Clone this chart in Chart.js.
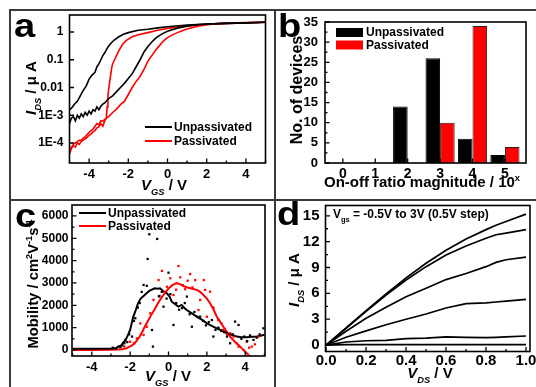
<!DOCTYPE html>
<html><head><meta charset="utf-8">
<script src="https://cdn.jsdelivr.net/npm/chart.js@4/dist/chart.umd.min.js"></script>
<style>
html,body{margin:0;padding:0;background:#fff;width:536px;height:387px;overflow:hidden;position:relative}
canvas{position:absolute}
.ln{position:absolute;background:#3a3a3a}
</style></head><body>
<canvas id="ca" width="265" height="190" style="left:10px;top:10px;width:265px;height:190px"></canvas>
<canvas id="cb" width="261" height="190" style="left:275px;top:10px;width:261px;height:190px"></canvas>
<canvas id="cc" width="265" height="187" style="left:10px;top:200px;width:265px;height:187px"></canvas>
<canvas id="cd" width="261" height="187" style="left:275px;top:200px;width:261px;height:187px"></canvas>
<div class="ln" style="left:9px;top:9px;width:527px;height:2px"></div>
<div class="ln" style="left:9px;top:9px;width:2px;height:378px"></div>
<div class="ln" style="left:274px;top:9px;width:2px;height:378px"></div>
<div class="ln" style="left:9px;top:199px;width:527px;height:2px"></div>
<script>
// ---------- Panel a: transfer curves (I_DS in µA vs V_GS) ----------
const aUnpV1 = [-5,-4.9,-4.75,-4.6,-4.45,-4.3,-4.15,-4.0,-3.85,-3.7,-3.6,-3.5,-3.4,-3.3,-3.2,-3.1,-3.0,-2.85,-2.7,-2.5,-2.25,-2.0,-1.5,-1.0,-0.5,0,1,2,3,4,5];
const aUnpI1 = [1.58e-3,1.78e-3,2.5e-3,3.16e-3,5.0e-3,7.9e-3,0.0112,0.02,0.028,0.0355,0.056,0.0708,0.1,0.141,0.178,0.24,0.316,0.417,0.525,0.66,0.83,0.95,1.15,1.26,1.41,1.55,1.78,1.95,2.04,2.14,2.24];
const aUnpV2 = [-5,-4.9,-4.8,-4.7,-4.6,-4.5,-4.4,-4.3,-4.2,-4.1,-4.0,-3.9,-3.8,-3.7,-3.6,-3.5,-3.4,-3.3,-3.2,-3.0,-2.8,-2.6,-2.4,-2.2,-2.0,-1.8,-1.6,-1.4,-1.2,-1.0,-0.8,-0.6,-0.4,-0.2,0,0.5,1,1.5,2,3,4,5];
const aUnpI2 = [5.0e-4,7.9e-4,8.9e-4,6.3e-4,1.0e-3,7.9e-4,1.12e-3,8.9e-4,1.26e-3,1.0e-3,1.41e-3,1.12e-3,1.58e-3,1.41e-3,2.0e-3,1.58e-3,2.1e-3,2.5e-3,2.8e-3,4.0e-3,5.0e-3,7.1e-3,0.01,0.0141,0.0209,0.0316,0.056,0.1,0.19,0.30,0.437,0.6,0.76,0.91,1.07,1.38,1.62,1.82,1.95,2.04,2.14,2.24];
const aPasV1 = [-5,-4.9,-4.8,-4.7,-4.6,-4.5,-4.4,-4.3,-4.2,-4.1,-4.0,-3.9,-3.8,-3.7,-3.6,-3.5,-3.4,-3.3,-3.2,-3.12,-3.08,-3.04,-3.0,-2.95,-2.9,-2.85,-2.8,-2.7,-2.5,-2.3,-2.1,-1.8,-1.5,-1.0,-0.5,0,1,2,3,4,5];
const aPasI1 = [3.98e-5,6.3e-5,7.9e-5,7.1e-5,1.0e-4,8.9e-5,1.12e-4,1.26e-4,1.41e-4,1.58e-4,1.9e-4,2.09e-4,2.5e-4,2.8e-4,3.5e-4,3.8e-4,5.0e-4,4.0e-4,6.3e-4,7.9e-4,2.0e-3,5.0e-3,8.9e-3,0.0158,0.028,0.05,0.0708,0.1,0.2,0.355,0.5,0.676,0.79,0.95,1.15,1.35,1.66,1.86,2.04,2.14,2.24];
const aPasV2 = [-5,-4.9,-4.8,-4.7,-4.6,-4.5,-4.4,-4.3,-4.2,-4.1,-4.0,-3.9,-3.8,-3.7,-3.6,-3.5,-3.4,-3.3,-3.2,-3.0,-2.8,-2.6,-2.4,-2.2,-2.0,-1.8,-1.6,-1.4,-1.2,-1.0,-0.8,-0.6,-0.4,-0.2,0,0.25,0.5,0.75,1.0,1.5,2.0,2.5,3,4,5];
const aPasI2 = [5.0e-5,7.1e-5,8.9e-5,1.0e-4,1.12e-4,1.26e-4,1.26e-4,1.51e-4,1.66e-4,2.0e-4,2.4e-4,2.8e-4,3.16e-4,4.0e-4,5.0e-4,4.5e-4,6.3e-4,6.0e-4,7.1e-4,8.9e-4,1.26e-3,1.66e-3,2.4e-3,3.16e-3,5.6e-3,0.01,0.0166,0.025,0.0447,0.089,0.141,0.224,0.33,0.48,0.63,0.79,0.95,1.12,1.29,1.58,1.82,2.0,2.09,2.19,2.24];
const aXTicks = [-4,-2,0,2,4];
const aXTickLabels = ['-4','-2','0','2','4'];
const aYTicks = [1e-4,1e-3,0.01,0.1,1];
const aYTickLabels = ['1E-4','1E-3','0.01','0.1','1'];

// ---------- Panel b: on-off ratio histogram ----------
const bCategories = [0,1,2,3,4,5];
const bUnp = [0,0,14,26,6,2];
const bPas = [0,0,0,10,34,4];
const bYTicks = [0,5,10,15,20,25,30,35];

// ---------- Panel c: mobility vs V_GS ----------
const cUnpV  = [-5,-4,-3,-2.75,-2.6,-2.45,-2.35,-2.25,-2.1,-2.0,-1.85,-1.7,-1.59,-1.45,-1.24,-1.0,-0.72,-0.55,-0.44,-0.3,-0.09,0.05,0.17,0.35,0.51,0.69,0.8,0.95,1.2,1.47,1.75,2.0,2.25,2.52,2.8,3.04,3.3,3.56,3.8,4.08,4.35,4.6,4.85,5.0];
const cUnpMu = [50,60,70,80,150,220,350,420,700,900,1450,1800,2090,2300,2460,2650,2760,2740,2760,2650,2540,2400,2160,2050,1940,2015,1900,1790,1650,1490,1350,1190,1080,970,860,750,680,600,570,570,590,600,650,680];
const cPasV  = [-5,-4,-3,-2.4,-2.2,-2.03,-1.9,-1.77,-1.65,-1.5,-1.37,-1.24,-1.1,-0.9,-0.72,-0.55,-0.38,-0.2,0,0.2,0.43,0.6,0.8,0.95,1.2,1.47,1.65,1.82,2.0,2.17,2.35,2.52,2.7,2.86,3.05,3.21,3.45,3.65,3.85,4.08,4.26,4.5];
const cPasMu = [0,0,10,30,70,150,200,300,420,600,800,1040,1250,1570,1820,2090,2320,2540,2750,2900,2990,2950,2850,2810,2750,2690,2600,2460,2300,2090,1800,1490,1250,1040,800,600,380,220,50,-150,-300,-550];
const cUnpDotV  = [-2.9,-2.75,-2.6,-2.5,-2.4,-2.3,-2.25,-2.15,-2.05,-1.9,-1.8,-1.73,-1.6,-1.5,-1.4,-1.3,-1.13,-1.09,-1.0,-0.86,-0.81,-0.59,-0.5,-0.47,-0.35,-0.26,-0.1,0.0,0.1,0.26,0.4,0.55,0.7,0.85,0.96,1.1,1.22,1.35,1.5,1.65,1.8,1.95,2.1,2.26,2.34,2.45,2.6,2.75,2.9,3.05,3.21,3.35,3.47,3.65,3.8,3.95,4.1,4.25,4.43,4.6,4.75,4.95];
const cUnpDotMu = [100,60,150,120,200,300,450,350,700,600,1300,1420,1900,2100,2600,2910,2870,4075,5180,895,150,4970,2400,2420,2600,1940,2300,3460,2500,1120,2100,1800,1870,2100,2390,1600,1040,1700,1490,1490,1300,1100,1250,1340,600,900,1000,850,800,600,300,700,1270,1120,500,600,400,650,450,550,700,970];
const cPasDotV  = [-2.3,-2.0,-1.8,-1.65,-1.47,-1.3,-1.13,-0.95,-0.78,-0.52,-0.34,-0.2,-0.08,0.09,0.26,0.4,0.52,0.61,0.75,0.87,1.0,1.13,1.25,1.39,1.56,1.65,1.84,1.91,2.0,2.17,2.35,2.6,2.75,2.86,3.05,3.21,3.39,3.55,3.65,3.91,4.08,4.2,4.34,4.5,4.69];
const cPasDotMu = [150,370,300,520,1190,670,1040,1640,2240,3130,3540,2600,2830,3210,2460,2700,3760,3250,2900,2720,3100,3400,2800,3130,1790,2240,3130,2690,1490,2610,1900,1340,1200,900,700,750,600,300,150,0,370,100,150,250,600];
const cXTicks = [-4,-2,0,2,4];
const cYTicks = [0,1000,2000,3000,4000,5000,6000];

// ---------- Panel d: output curves ----------
const dV  = [0,0.1,0.2,0.3,0.4,0.5,0.6,0.7,0.8,0.85,0.9,1.0];
const dI1 = [0,2.0,4.0,5.95,7.8,9.5,11.0,12.3,13.4,13.9,14.35,15.2];
const dI2 = [0,1.95,3.9,5.8,7.55,9.1,10.45,11.5,12.4,12.8,13.0,13.4];
const dI3 = [0,1.6,3.1,4.4,5.6,6.6,7.6,8.3,9.1,9.6,9.9,10.2];
const dI4 = [0,0.9,1.65,2.35,3.0,3.6,4.3,4.8,4.9,5.0,5.1,5.3];
const dI5 = [0,0.35,0.5,0.55,0.75,0.8,0.95,0.9,0.85,0.9,0.95,1.05];
const dI6 = [0,0.05,0.05,0.05,0.05,0.05,0.05,0.05,0.05,0.05,0.05,0.05];
const dXTicks = [0,0.2,0.4,0.6,0.8,1.0];
const dXTickLabels = ['0.0','0.2','0.4','0.6','0.8','1.0'];
const dYTicks = [0,3,6,9,12,15];

// ---------- helpers ----------
const FAM = '"Liberation Sans", Arial, Helvetica, sans-serif';
Chart.defaults.font.family = FAM;
Chart.defaults.color = '#000';
Chart.defaults.animation = false;
Chart.defaults.plugins.legend.display = false;
Chart.defaults.plugins.tooltip.enabled = false;

const zip = (xs, ys) => xs.map((x, i) => ({x, y: ys[i]}));

function fontFor(s, size){
  const sz = (s.sub || s.sup) ? size * 0.62 : size;
  return (s.i ? 'italic ' : '') + 'bold ' + sz + 'px ' + FAM;
}
function drawRich(ctx, segs, x, y, size, align){
  let w = 0;
  segs.forEach(s => { ctx.font = fontFor(s, size); w += ctx.measureText(s.t).width; });
  let cx = align === 'center' ? x - w / 2 : x;
  ctx.textAlign = 'left'; ctx.textBaseline = 'alphabetic';
  segs.forEach(s => {
    ctx.font = fontFor(s, size);
    const dy = s.sub ? size * 0.32 : (s.sup ? -size * 0.4 : 0);
    ctx.fillText(s.t, cx, y + dy);
    cx += ctx.measureText(s.t).width;
  });
}

function decor(spec){
  return {
    id: 'decor',
    afterDraw(chart){
      const ctx = chart.ctx, ca = chart.chartArea;
      const X = v => v - spec.ox, Y = v => v - spec.oy;
      ctx.save();
      ctx.fillStyle = '#000'; ctx.strokeStyle = '#000';
      ctx.lineWidth = 1.6;
      ctx.strokeRect(ca.left, ca.top, ca.right - ca.left, ca.bottom - ca.top);
      const xs = chart.scales.x, ys = chart.scales.y;
      ctx.lineWidth = 1.3;
      ctx.beginPath();
      const tick = (sc, v, len) => {
        const p = sc.getPixelForValue(v);
        if (sc === xs) { ctx.moveTo(p, ca.bottom); ctx.lineTo(p, ca.bottom - len); }
        else { ctx.moveTo(ca.left, p); ctx.lineTo(ca.left + len, p); }
      };
      spec.xMajor.forEach(v => tick(xs, v, 4.5));
      (spec.xMinor || []).forEach(v => tick(xs, v, 2.5));
      spec.yMajor.forEach(v => tick(ys, v, 4.5));
      (spec.yMinor || []).forEach(v => tick(ys, v, 2.5));
      ctx.stroke();
      ctx.font = 'bold 34px ' + FAM; ctx.textAlign = 'left'; ctx.textBaseline = 'alphabetic';
      ctx.save(); ctx.translate(X(spec.letter.x), Y(spec.letter.y)); ctx.scale(1.12, 1);
      ctx.fillText(spec.letter.t, 0, 0); ctx.restore();
      drawRich(ctx, spec.xTitle.segs, X(spec.xTitle.cx), Y(spec.xTitle.y), spec.xTitle.size, 'center');
      ctx.save();
      ctx.translate(X(spec.yTitle.cx), Y(spec.yTitle.cy));
      ctx.rotate(-Math.PI / 2);
      drawRich(ctx, spec.yTitle.segs, 0, spec.yTitle.size * 0.36, spec.yTitle.size, 'center');
      ctx.restore();
      (spec.legend || []).forEach(it => {
        ctx.fillStyle = it.color; ctx.strokeStyle = it.color;
        if (it.kind === 'line') {
          ctx.lineWidth = 2; ctx.beginPath();
          ctx.moveTo(X(it.x1), Y(it.y)); ctx.lineTo(X(it.x2), Y(it.y)); ctx.stroke();
        } else {
          ctx.fillRect(X(it.x1), Y(it.y) - 4.5, it.x2 - it.x1, 9);
        }
        ctx.fillStyle = '#000';
        ctx.font = 'bold 12px ' + FAM; ctx.textAlign = 'left'; ctx.textBaseline = 'middle';
        ctx.fillText(it.label, X(it.tx), Y(it.y) + 0.5);
      });
      if (spec.note) drawRich(ctx, spec.note.segs, X(spec.note.x), Y(spec.note.y), spec.note.size, 'left');
      ctx.restore();
    }
  };
}

function xAxis(type, min, max, ticks, labels, size, pad, h){
  return { type, min, max, offset:false,
    grid:{display:false, drawTicks:false, offset:false}, border:{display:false},
    afterBuildTicks: s => { s.ticks = ticks.map(v => ({value:v})); },
    afterFit: s => { s.height = h; s.paddingLeft = 0; s.paddingRight = 0; },
    ticks:{ font:{size, weight:'bold'}, color:'#000', padding:pad, maxRotation:0, autoSkip:false,
      callback: (v, i) => labels[i] } };
}
function yAxis(type, min, max, ticks, labels, size, pad, w){
  return { type, min, max,
    grid:{display:false, drawTicks:false}, border:{display:false},
    afterBuildTicks: s => { s.ticks = ticks.map(v => ({value:v})); },
    afterFit: s => { s.width = w; s.paddingTop = 0; s.paddingBottom = 0; },
    ticks:{ font:{size, weight:'bold'}, color:'#000', padding:pad, autoSkip:false,
      callback: (v, i) => labels[i] } };
}
const mids = (arr) => arr.slice(0, -1).map((v, i) => (v + arr[i + 1]) / 2);
const lineDs = (data, color, w) => ({ type:'line', data, borderColor:color, backgroundColor:color, borderWidth:w, pointRadius:0, tension:0, fill:false });
const RED = '#ff0000', BLK = '#000000';

// ---------- Chart a ----------
new Chart(document.getElementById('ca'), {
  type:'line',
  data:{ datasets:[
    lineDs(zip(aUnpV1, aUnpI1), BLK, 1.6),
    lineDs(zip(aUnpV2, aUnpI2), BLK, 1.6),
    lineDs(zip(aPasV1, aPasI1), RED, 1.6),
    lineDs(zip(aPasV2, aPasI2), RED, 1.6)
  ]},
  options:{ responsive:false, devicePixelRatio:1,
    layout:{ padding:{ top:5, right:9.5, left:0, bottom:0 } },
    scales:{
      x: xAxis('linear', -5, 5, aXTicks, aXTickLabels, 13, 4, 37),
      y: yAxis('logarithmic', 1.9e-5, 4.1, aYTicks, aYTickLabels, 12, 6, 59.5)
    } },
  plugins:[decor({ ox:10, oy:10,
    letter:{t:'a', x:14, y:37},
    xMajor:aXTicks, xMinor:[-5,-3,-1,1,3,5], yMajor:aYTicks,
    xTitle:{ cx:164, y:190, size:15, segs:[{t:'V',i:true},{t:'GS',i:true,sub:true},{t:' / V'}] },
    yTitle:{ cx:31, cy:88, size:15, segs:[{t:'I',i:true},{t:'DS',i:true,sub:true},{t:' / μ A'}] },
    legend:[
      {kind:'line', color:BLK, x1:145, x2:172, y:127, tx:174, label:'Unpassivated'},
      {kind:'line', color:RED, x1:145, x2:172, y:141, tx:174, label:'Passivated'}
    ]
  })]
});

// ---------- Chart b ----------
new Chart(document.getElementById('cb'), {
  type:'bar',
  data:{ datasets:[
    { data: zip(bCategories, bUnp), backgroundColor:BLK, borderColor:'#000', borderWidth:1, categoryPercentage:0.9, barPercentage:1.0 },
    { data: zip(bCategories, bPas), backgroundColor:RED, borderColor:'#222', borderWidth:1, categoryPercentage:0.9, barPercentage:1.0 }
  ]},
  options:{ responsive:false, devicePixelRatio:1,
    layout:{ padding:{ top:12, right:10, left:0, bottom:0 } },
    scales:{
      x: xAxis('linear', -0.55, 5.65, bCategories, bCategories.map(String), 14, 2.5, 37),
      y: yAxis('linear', 0, 35, bYTicks, bYTicks.map(String), 13, 7, 50)
    } },
  plugins:[decor({ ox:275, oy:10,
    letter:{t:'b', x:278, y:37},
    xMajor:bCategories, yMajor:bYTicks, yMinor:mids(bYTicks),
    xTitle:{ cx:422, y:187, size:15, segs:[{t:'On-off ratio magnitude / 10'},{t:'x',sup:true}] },
    yTitle:{ cx:296, cy:90, size:16, segs:[{t:'No. of devices'}] },
    legend:[
      {kind:'rect', color:BLK, x1:336, x2:363, y:32.5, tx:366, label:'Unpassivated'},
      {kind:'rect', color:RED, x1:336, x2:363, y:45, tx:366, label:'Passivated'}
    ]
  })]
});

// ---------- Chart c ----------
new Chart(document.getElementById('cc'), {
  type:'line',
  data:{ datasets:[
    { type:'scatter', data: zip(cUnpDotV, cUnpDotMu), showLine:false, pointStyle:'rect', pointRadius:1.6, backgroundColor:BLK, borderColor:BLK, borderWidth:0 },
    { type:'scatter', data: zip(cPasDotV, cPasDotMu), showLine:false, pointStyle:'rect', pointRadius:1.6, backgroundColor:RED, borderColor:RED, borderWidth:0 },
    lineDs(zip(cUnpV, cUnpMu), BLK, 2),
    lineDs(zip(cPasV, cPasMu), RED, 2)
  ]},
  options:{ responsive:false, devicePixelRatio:1,
    layout:{ padding:{ top:5, right:10, left:0, bottom:0 } },
    scales:{
      x: xAxis('linear', -5.03, 5.03, cXTicks, cXTicks.map(String), 13, 4, 31),
      y: yAxis('linear', -270, 6490, cYTicks, cYTicks.map(String), 12, 3.5, 62)
    } },
  plugins:[decor({ ox:10, oy:200,
    letter:{t:'c', x:15, y:227},
    xMajor:cXTicks, xMinor:[-5,-3,-1,1,3,5], yMajor:cYTicks, yMinor:mids(cYTicks),
    xTitle:{ cx:168, y:381, size:15, segs:[{t:'V',i:true},{t:'GS',i:true,sub:true},{t:' / V'}] },
    yTitle:{ cx:33, cy:284, size:14.8, segs:[{t:'Mobility / cm'},{t:'2',sup:true},{t:'V'},{t:'-1',sup:true},{t:'s'},{t:'-1',sup:true}] },
    legend:[
      {kind:'line', color:BLK, x1:79, x2:106, y:213, tx:108, label:'Unpassivated'},
      {kind:'line', color:RED, x1:79, x2:106, y:226, tx:108, label:'Passivated'}
    ]
  })]
});

// ---------- Chart d ----------
new Chart(document.getElementById('cd'), {
  type:'line',
  data:{ datasets:[
    lineDs(zip(dV, dI1), BLK, 1.7),
    lineDs(zip(dV, dI2), BLK, 1.7),
    lineDs(zip(dV, dI3), BLK, 1.7),
    lineDs(zip(dV, dI4), BLK, 1.7),
    lineDs(zip(dV, dI5), BLK, 1.7),
    lineDs(zip(dV, dI6), BLK, 1.7)
  ]},
  options:{ responsive:false, devicePixelRatio:1,
    layout:{ padding:{ top:5.5, right:6, left:0, bottom:0 } },
    scales:{
      x: xAxis('linear', -0.003, 1.02, dXTicks, dXTickLabels, 15, 0.5, 35.5),
      y: yAxis('linear', -0.75, 16.2, dYTicks, dYTicks.map(String), 15, 6, 50.5)
    } },
  plugins:[decor({ ox:275, oy:200,
    letter:{t:'d', x:277, y:225},
    xMajor:dXTicks, xMinor:mids(dXTicks), yMajor:dYTicks, yMinor:mids(dYTicks),
    xTitle:{ cx:430, y:378, size:15, segs:[{t:'V',i:true},{t:'DS',i:true,sub:true},{t:' / V'}] },
    yTitle:{ cx:294, cy:280, size:15, segs:[{t:'I',i:true},{t:'DS',i:true,sub:true},{t:' / μ A'}] },
    note:{ x:333, y:218, size:12, segs:[{t:'V'},{t:'gs',sub:true},{t:' = -0.5V to 3V (0.5V step)'}] }
  })]
});
</script>
</body></html>
